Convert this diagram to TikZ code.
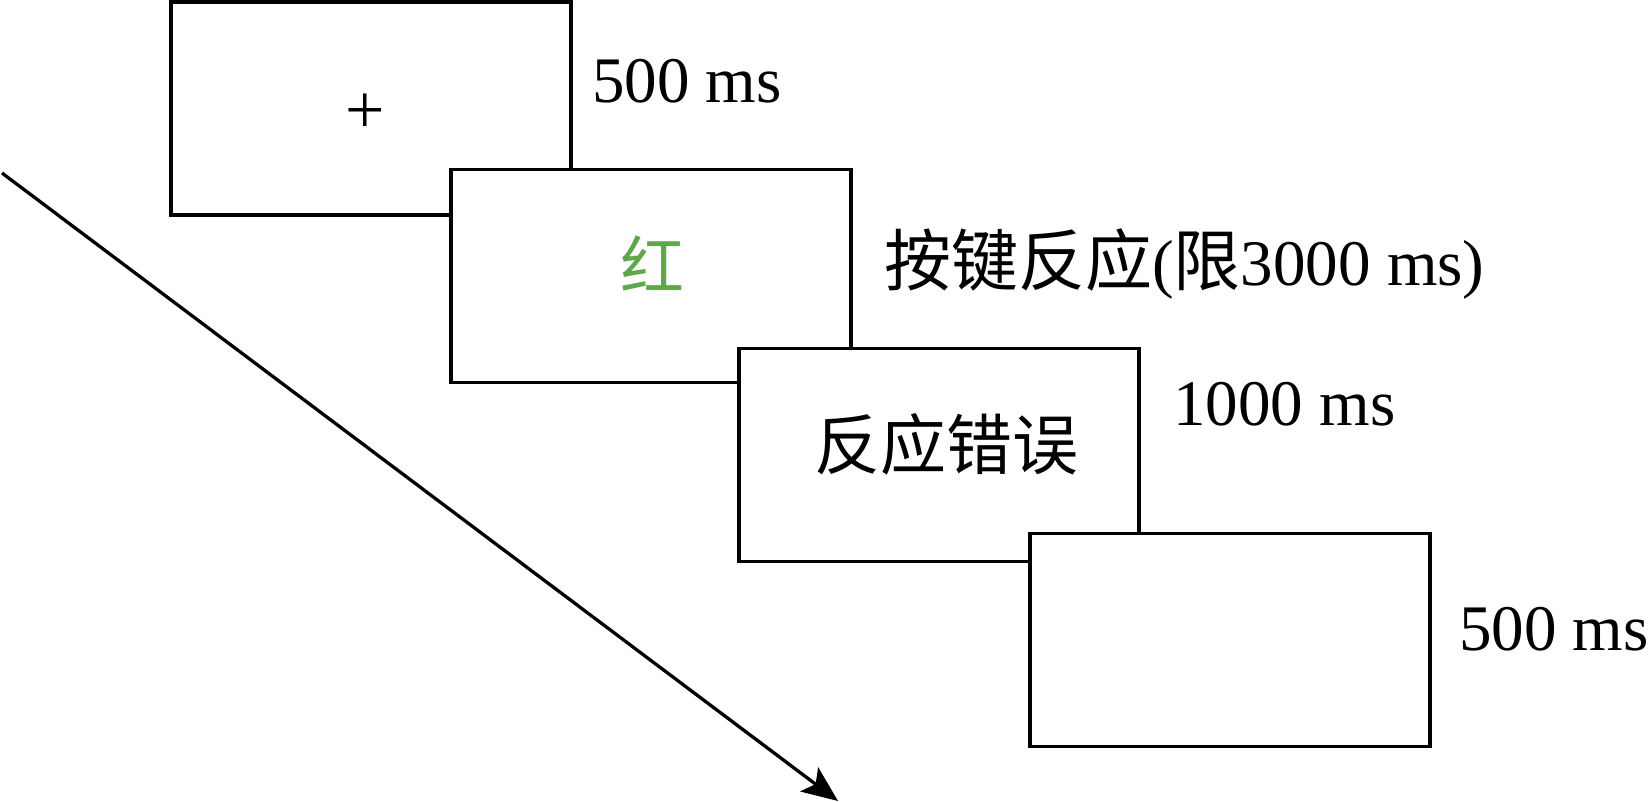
\documentclass[tikz,border=0pt]{standalone}
\usepackage{fontspec}
\setmainfont{Liberation Serif}
\newfontfamily\cjk{Noto Sans CJK SC}
\usetikzlibrary{arrows.meta}
\definecolor{wordgreen}{RGB}{94,168,72}
\begin{document}
\begin{tikzpicture}[x=1pt,y=-1pt,
  screen/.style={draw=black, fill=white, line width=3.5pt, inner sep=0pt, minimum width=400pt, minimum height=213pt},
  lbl/.style={anchor=base west, inner sep=0pt, font=\fontsize{65}{78}\selectfont},
  content/.style={inner sep=0pt, font=\fontsize{65}{78}\selectfont},
  timeline/.style={line width=3.3pt, -{Stealth[length=36pt,width=30pt,inset=8pt]}}]
\useasboundingbox (0,0) rectangle (1650,802);
\coordinate (t0) at (2,173);
\coordinate (t1) at (838,801);
\draw[timeline] (t0) -- (t1);
\node[screen] (s1) at (371,108.5) {};
\node[screen] (s2) at (651,276) {};
\node[screen] (s3) at (939,455) {};
\node[screen] (s4) at (1230,640) {};
\node[content, font=\fontsize{70}{84}\selectfont] (c1) at (365,114) {+};
\node[content, text=wordgreen] (c2) at (652,263) {\cjk\fontsize{64}{76}\selectfont 红};
\node[content] (c3) at (946,444) {\cjk\fontsize{66}{78}\selectfont 反应错误};
\node[lbl] (l1) at (592,103) {500 ms};
\node[lbl] (l2) at (884,286) {{\cjk\fontsize{67}{78}\selectfont 按键反应}({\cjk\fontsize{67}{78}\selectfont 限}3000 ms)};
\node[lbl] (l3) at (1173,425) {1000 ms};
\node[lbl] (l4) at (1459,650) {500 ms};
\end{tikzpicture}
\end{document}
